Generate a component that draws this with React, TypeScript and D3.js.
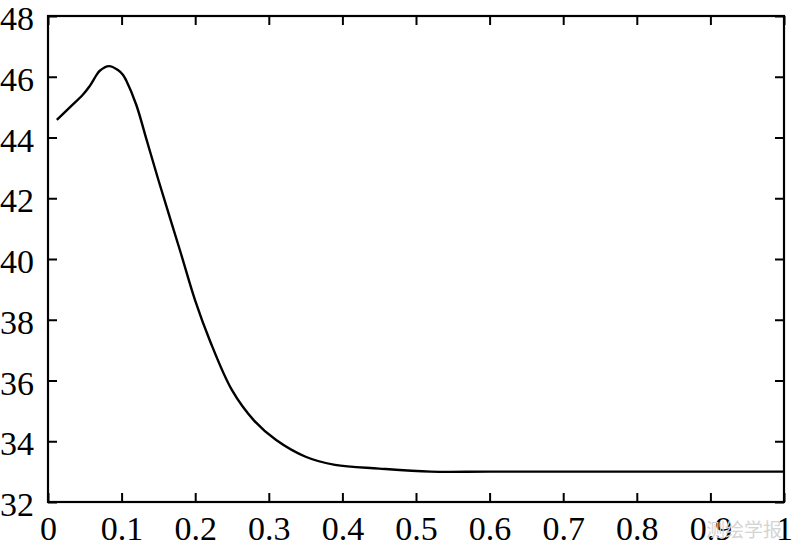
import React, { useEffect, useRef } from "react";
import * as d3 from "d3";

// Curve values
const xValues = [0.012, 0.03, 0.047, 0.056, 0.066, 0.07, 0.083, 0.095, 0.102, 0.106, 0.12, 0.134, 0.15, 0.18, 0.2, 0.22, 0.25, 0.28, 0.31, 0.35, 0.39, 0.45, 0.52, 0.6, 0.8, 1.0];
const yValues = [44.58, 45.0, 45.4, 45.67, 46.06, 46.19, 46.35, 46.22, 46.06, 45.89, 45.07, 43.92, 42.6, 40.23, 38.63, 37.31, 35.68, 34.68, 34.04, 33.49, 33.22, 33.1, 33.0, 33.0, 33.0, 33.0];
const xTicks = [0, 0.1, 0.2, 0.3, 0.4, 0.5, 0.6, 0.7, 0.8, 0.9, 1];
const yTicks = [32, 34, 36, 38, 40, 42, 44, 46, 48];

const App = () => {
  const svgRef = useRef<SVGSVGElement>(null);

  useEffect(() => {
    const width = 800;
    const height = 551;
    const margin = { top: 16, right: 16, bottom: 49, left: 48 };
    const font = "'Liberation Serif', 'Times New Roman', serif";

    const svg = d3.select(svgRef.current);
    svg.selectAll("*").remove();

    const x = d3.scaleLinear().domain([0, 1]).range([margin.left, width - margin.right]);
    const y = d3.scaleLinear().domain([32, 48]).range([height - margin.bottom, margin.top]);

    const tickLen = 9;

    // bottom axis
    svg
      .append("g")
      .attr("transform", `translate(0,${y(32)})`)
      .call(d3.axisBottom(x).tickValues(xTicks).tickFormat(d3.format("")).tickSize(-tickLen).tickPadding(14).tickSizeOuter(0))
      .call((g) => g.select(".domain").remove())
      .call((g) => g.selectAll(".tick line").attr("stroke", "#000").attr("stroke-width", 2))
      .call((g) =>
        g.selectAll(".tick text").attr("fill", "#000").style("font-family", font).style("font-size", "34px").attr("dy", "0.71em")
      );

    // top ticks
    svg
      .append("g")
      .attr("transform", `translate(0,${y(48)})`)
      .call(d3.axisTop(x).tickValues(xTicks).tickFormat(() => "").tickSize(-tickLen).tickSizeOuter(0))
      .call((g) => g.select(".domain").remove())
      .call((g) => g.selectAll(".tick line").attr("stroke", "#000").attr("stroke-width", 2));

    // left axis
    svg
      .append("g")
      .attr("transform", `translate(${x(0)},0)`)
      .call(d3.axisLeft(y).tickValues(yTicks).tickSize(-tickLen).tickPadding(14).tickSizeOuter(0))
      .call((g) => g.select(".domain").remove())
      .call((g) => g.selectAll(".tick line").attr("stroke", "#000").attr("stroke-width", 2))
      .call((g) =>
        g.selectAll(".tick text").attr("fill", "#000").style("font-family", font).style("font-size", "34px").attr("dy", "0.4em")
      );

    // right ticks
    svg
      .append("g")
      .attr("transform", `translate(${x(1)},0)`)
      .call(d3.axisRight(y).tickValues(yTicks).tickFormat(() => "").tickSize(-tickLen).tickSizeOuter(0))
      .call((g) => g.select(".domain").remove())
      .call((g) => g.selectAll(".tick line").attr("stroke", "#000").attr("stroke-width", 2));

    // frame
    svg
      .append("rect")
      .attr("x", x(0))
      .attr("y", y(48))
      .attr("width", x(1) - x(0))
      .attr("height", y(32) - y(48))
      .attr("fill", "none")
      .attr("stroke", "#000")
      .attr("stroke-width", 2.2);

    // curve
    const data = xValues.map((v, i) => [v, yValues[i]] as [number, number]);
    const line = d3
      .line<[number, number]>()
      .x((d) => x(d[0]))
      .y((d) => y(d[1]))
      .curve(d3.curveCatmullRom.alpha(0.5));

    svg
      .append("path")
      .datum(data)
      .attr("d", line)
      .attr("fill", "none")
      .attr("stroke", "#000")
      .attr("stroke-width", 2.4);

    // watermark
    svg
      .append("text")
      .attr("x", 744)
      .attr("y", 537)
      .attr("text-anchor", "middle")
      .attr("fill", "#d4d4d4")
      .style("font-family", "'Noto Sans CJK SC', sans-serif")
      .style("font-size", "19px")
      .text("测绘学报");
  }, []);

  return (
    <svg
      ref={svgRef}
      width={800}
      height={551}
      style={{ position: "absolute", left: 0, top: 0, background: "#fff" }}
    />
  );
};

export default App;
